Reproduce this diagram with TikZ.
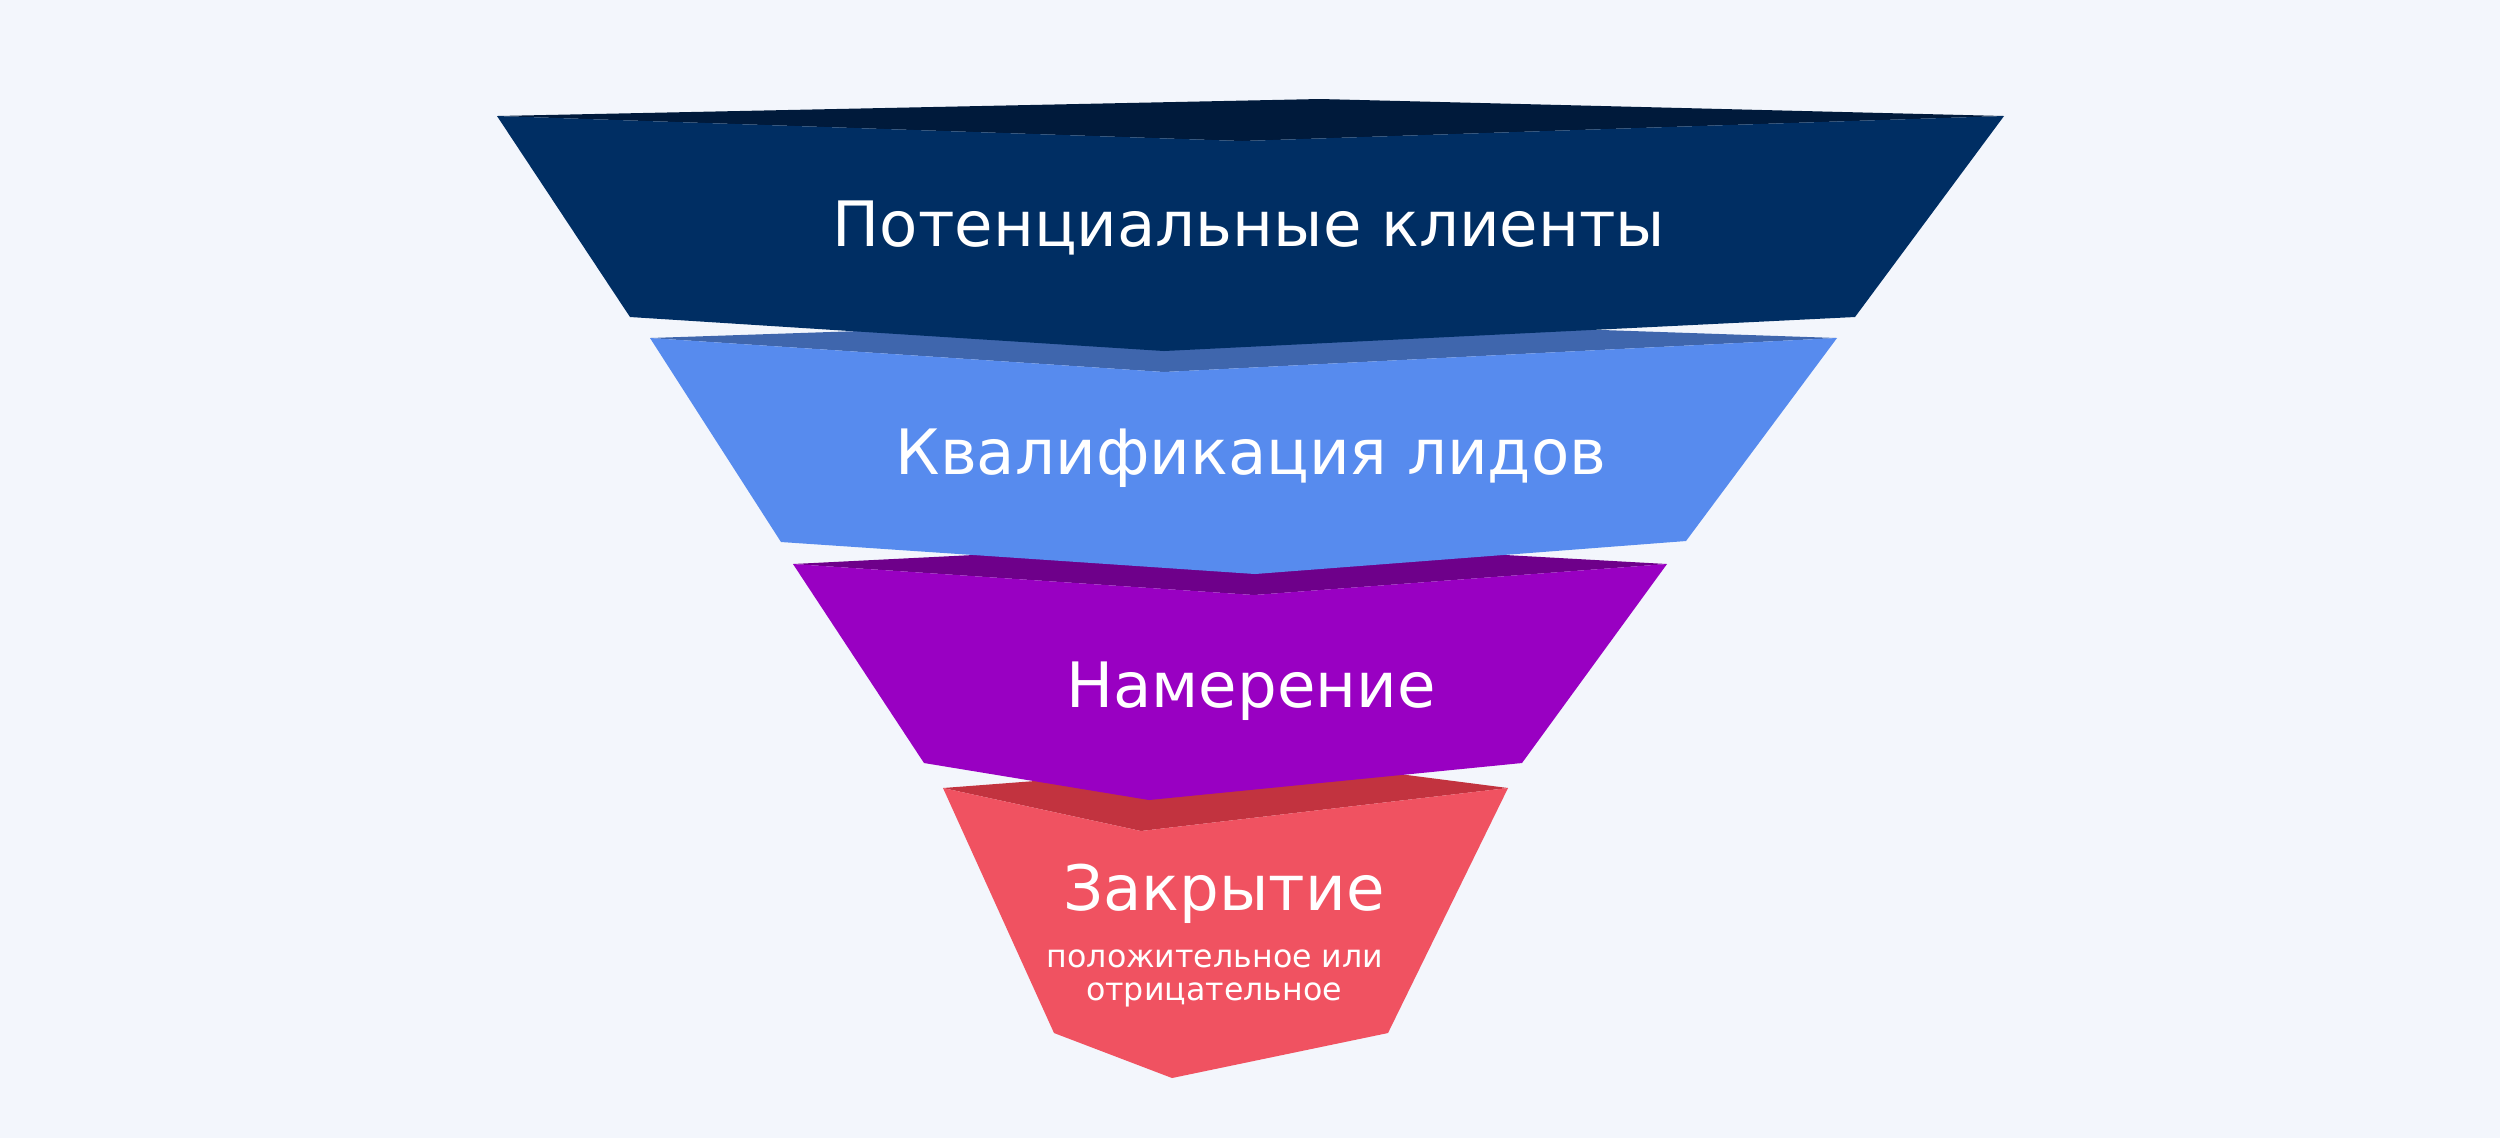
\documentclass[tikz,border=0pt]{standalone}
\usepackage{fontspec}
\setmainfont{DejaVu Sans}

\definecolor{pagebg}{HTML}{F3F6FC}
\definecolor{navyface}{HTML}{002E63}
\definecolor{navylip}{HTML}{001A3B}
\definecolor{blueface}{HTML}{578BEE}
\definecolor{bluelip}{HTML}{3F66AD}
\definecolor{purpleface}{HTML}{9900C2}
\definecolor{purplelip}{HTML}{6E008A}
\definecolor{coralface}{HTML}{F05261}
\definecolor{corallip}{HTML}{C2333F}

\tikzset{
  stagelabel/.style={text=white, anchor=base, inner sep=0pt, font=\fontsize{17.8}{21}\selectfont},
  notelabel/.style={text=white, anchor=base, inner sep=0pt, font=\fontsize{9}{11}\selectfont}
}

\begin{document}
\begin{tikzpicture}[x=0.01cm, y=-0.01cm]
  \fill[pagebg] (0,0) rectangle (2500,1138);

  % funnel bands from the bottom up, back lip first, then front face
  \fill[corallip] (943,788) -- (1298,761) -- (1508,788) -- (1141,831) -- cycle;
  \fill[coralface] (943,788) -- (1141,831) -- (1508,788) -- (1388,1033) -- (1172,1078) -- (1054,1033) -- cycle;

  \fill[purplelip] (793,564) -- (1254,541) -- (1667,564) -- (1254,595) -- cycle;
  \fill[purpleface] (793,564) -- (1254,595) -- (1667,564) -- (1522,763) -- (1149,800) -- (924,763) -- cycle;

  \fill[bluelip] (650,338) -- (1250,318) -- (1837,338) -- (1164,372) -- cycle;
  \fill[blueface] (650,338) -- (1164,372) -- (1837,338) -- (1686,541) -- (1255,574) -- (781,542) -- cycle;

  \fill[navylip] (497,116) -- (1320,99) -- (2004,116) -- (1242,141) -- cycle;
  \fill[navyface] (497,116) -- (1242,141) -- (2004,116) -- (1855,317) -- (1164,351) -- (630,317) -- cycle;

  \node[stagelabel] (leads) at (1249,246) {Потенциальные клиенты};
  \node[stagelabel] (qualify) at (1251,474) {Квалификация лидов};
  \node[stagelabel] (intent) at (1251,707) {Намерение};
  \node[stagelabel] (closing) at (1224,910) {Закрытие};
  \node[notelabel] (outcome1) at (1215,967) {положительное или};
  \node[notelabel] (outcome2) at (1214,1000) {отрицательное};
\end{tikzpicture}
\end{document}
